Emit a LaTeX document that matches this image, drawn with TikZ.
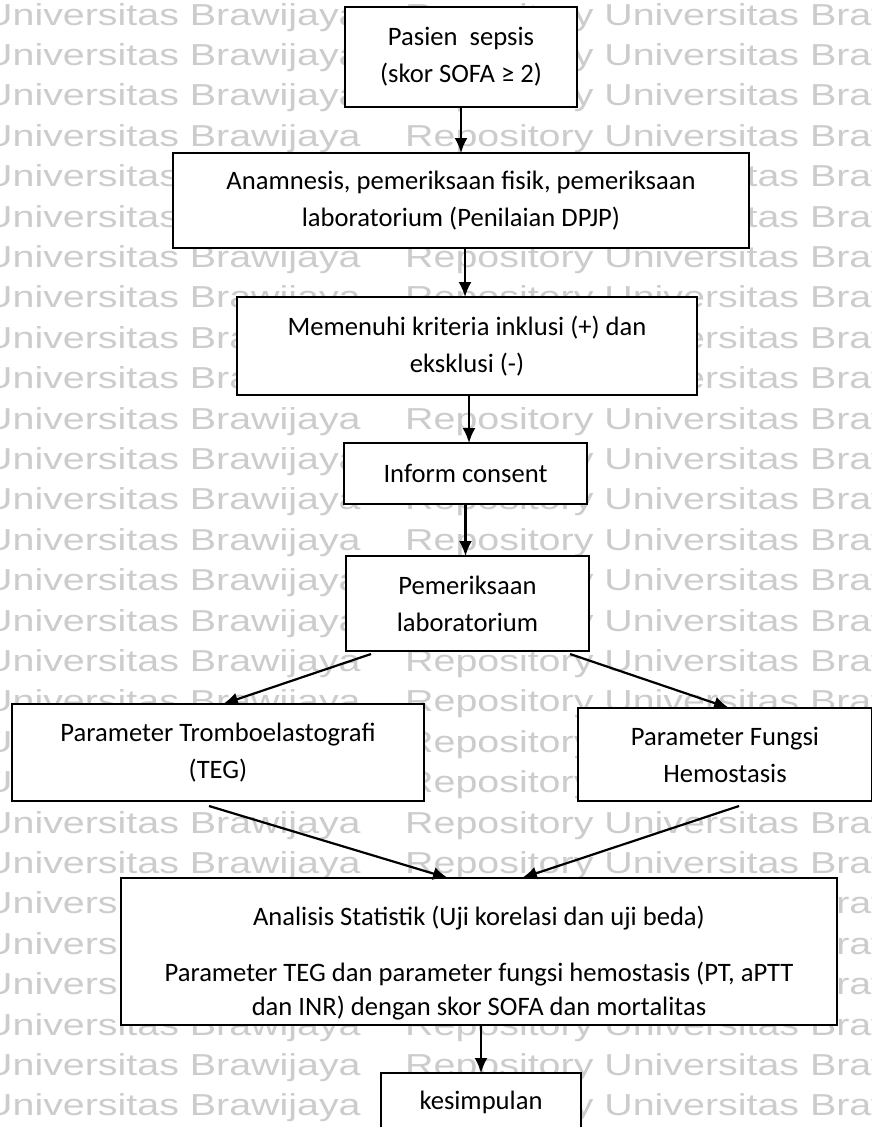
\documentclass[tikz,border=0pt]{standalone}
\usepackage{fontspec}
\setmainfont{Carlito}
\newfontfamily\wmfont{Liberation Sans}
\usetikzlibrary{positioning,arrows.meta}
\tikzset{
  box/.style={draw, line width=1.8pt, fill=white, rectangle, align=center,
    inner sep=0pt, outer sep=0pt, font=\fontsize{26.6}{37}\selectfont},
  arrow/.style={line width=2.2pt, -{Latex[length=15pt,width=13pt]}},
  wmark/.style={anchor=base west, inner sep=0pt, text=black!20,
    font=\wmfont\fontsize{30.3}{30}\selectfont}
}

\begin{document}
\begin{tikzpicture}[node distance=46pt]
	  \useasboundingbox (0,0) rectangle (872pt,-1127pt);
	  \clip (0,0) rectangle (872pt,-1127pt);
	  % watermark
	  \foreach \i in {0,...,27} {
	    \node [wmark] at (-16pt,{-25pt-40.4pt*\i}) {\scalebox{1.30}[1]{Universitas Brawijaya}};
	    \node [wmark] at (405pt,{-25pt-40.4pt*\i}) {\scalebox{1.30}[1]{Repository Universitas Brawijaya}};
	  }
	  % flow
	  \node [box, minimum width=232pt, minimum height=100pt] (pasien) at (461pt,-57pt) {Pasien\ \ sepsis\\(skor SOFA ≥ 2)};
	  \node [box, minimum width=576pt, minimum height=95pt, below=of pasien] (anamnesis) {Anamnesis, pemeriksaan fisik, pemeriksaan\\laboratorium (Penilaian DPJP)};
	  \node [box, minimum width=460pt, minimum height=98pt, below=49pt of anamnesis, xshift=6pt] (kriteria) {Memenuhi kriteria inklusi (+) dan\\eksklusi (-)};
	  \node [box, minimum width=243pt, minimum height=61pt, below=48pt of kriteria, xshift=-1.5pt] (consent) {Inform consent};
	  \node [box, minimum width=243pt, minimum height=95pt, below=52pt of consent, xshift=2pt] (lab) {Pemeriksaan\\laboratorium};
	  \node [box, minimum width=412pt, minimum height=97pt, below left=53pt and -78pt of lab] (teg) {Parameter Tromboelastografi\\(TEG)};
	  \node [box, minimum width=294pt, minimum height=93pt, below right=57pt and -11pt of lab] (hemo) {Parameter Fungsi\\Hemostasis};
	  \node [box, minimum width=716pt, minimum height=147pt, below=227pt of lab, xshift=11.5pt] (analisis) {\rule{0pt}{43pt}Analisis Statistik (Uji korelasi dan uji beda)\\[19pt]
	    Parameter TEG dan parameter fungsi hemostasis (PT, aPTT\\[-3pt]
	    dan INR) dengan skor SOFA dan mortalitas};
	  \node [box, minimum width=200pt, minimum height=58pt, below=48pt of analisis, xshift=2pt] (simpulan) {kesimpulan};
	  \draw [arrow] (pasien.south) -- (pasien.south |- anamnesis.north);
	  \draw [arrow] ([xshift=4pt]anamnesis.south) -- ([xshift=4pt]anamnesis.south |- kriteria.north);
	  \draw [arrow] ([xshift=2pt]kriteria.south) -- ([xshift=2pt]kriteria.south |- consent.north);
	  \draw [arrow] (consent.south) -- (consent.south |- lab.north);
	  \draw [arrow] ([xshift=-96.5pt,yshift=-3pt]lab.south) -- ([xshift=5pt]teg.north);
	  \draw [arrow] ([xshift=102.5pt,yshift=-3pt]lab.south) -- ([xshift=4pt]hemo.north);
	  \draw [arrow] ([xshift=-9pt,yshift=-5pt]teg.south) -- ([xshift=-31pt]analisis.north);
	  \draw [arrow] ([xshift=14pt,yshift=-5pt]hemo.south) -- ([xshift=43pt]analisis.north);
	  \draw [arrow] ([xshift=2pt]analisis.south) -- ([xshift=2pt]analisis.south |- simpulan.north);
	\end{tikzpicture}
\end{document}
